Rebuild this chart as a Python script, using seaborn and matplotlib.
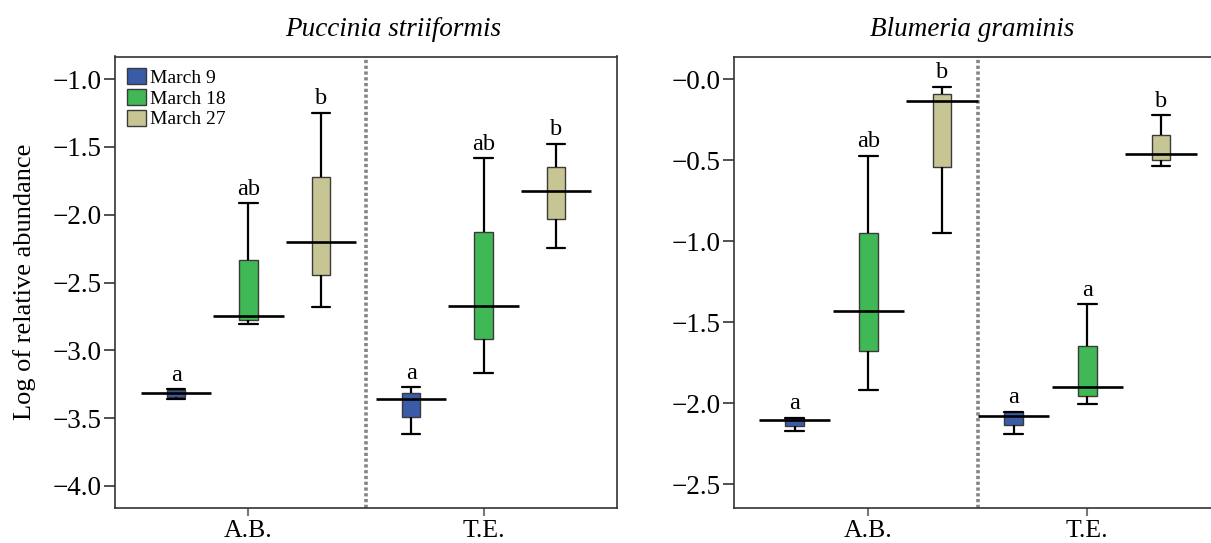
import numpy as np
import pandas as pd
import matplotlib
matplotlib.use("Agg")
import matplotlib.pyplot as plt
import seaborn as sns

# ---------------- data (min, Q1, median, Q3, max) ----------------
sites = ["A.B.", "T.E."]
dates = ["March 9", "March 18", "March 27"]

# Puccinia striiformis
ps_ab_m9  = [-3.360, -3.345, -3.314, -3.295, -3.287]
ps_ab_m18 = [-2.807, -2.775, -2.746, -2.333, -1.915]
ps_ab_m27 = [-2.677, -2.441, -2.200, -1.723, -1.246]
ps_te_m9  = [-3.616, -3.488, -3.360, -3.316, -3.274]
ps_te_m18 = [-3.169, -2.918, -2.670, -2.129, -1.583]
ps_te_m27 = [-2.242, -2.033, -1.826, -1.649, -1.475]
ps_letters = {"A.B.": ["a", "ab", "b"], "T.E.": ["a", "ab", "b"]}

# Blumeria graminis
bg_ab_m9  = [-2.169, -2.138, -2.105, -2.093, -2.088]
bg_ab_m18 = [-1.918, -1.675, -1.428, -0.951, -0.471]
bg_ab_m27 = [-0.949, -0.543, -0.134, -0.091, -0.047]
bg_te_m9  = [-2.191, -2.134, -2.076, -2.055, -2.051]
bg_te_m18 = [-2.006, -1.953, -1.901, -1.644, -1.389]
bg_te_m27 = [-0.535, -0.500, -0.463, -0.344, -0.222]
bg_letters = {"A.B.": ["a", "ab", "b"], "T.E.": ["a", "a", "b"]}

ps_yticks = [-1.0, -1.5, -2.0, -2.5, -3.0, -3.5, -4.0]
ps_yticklabels = ["\u22121.0", "\u22121.5", "\u22122.0", "\u22122.5", "\u22123.0", "\u22123.5", "\u22124.0"]
bg_yticks = [0.0, -0.5, -1.0, -1.5, -2.0, -2.5]
bg_yticklabels = ["\u22120.0", "\u22120.5", "\u22121.0", "\u22121.5", "\u22122.0", "\u22122.5"]

titles = ["Puccinia striiformis", "Blumeria graminis"]
ylabel = "Log of relative abundance"
colors = ["#3a5ba8", "#3fb855", "#c8c595"]


def make_df(groups):
    rows = []
    for (site, date), vals in groups.items():
        for v in vals:
            rows.append({"site": site, "date": date, "value": v})
    return pd.DataFrame(rows)


ps_df = make_df({("A.B.", "March 9"): ps_ab_m9, ("A.B.", "March 18"): ps_ab_m18,
                 ("A.B.", "March 27"): ps_ab_m27, ("T.E.", "March 9"): ps_te_m9,
                 ("T.E.", "March 18"): ps_te_m18, ("T.E.", "March 27"): ps_te_m27})
bg_df = make_df({("A.B.", "March 9"): bg_ab_m9, ("A.B.", "March 18"): bg_ab_m18,
                 ("A.B.", "March 27"): bg_ab_m27, ("T.E.", "March 9"): bg_te_m9,
                 ("T.E.", "March 18"): bg_te_m18, ("T.E.", "March 27"): bg_te_m27})

sns.set_style("ticks")
plt.rcParams["font.family"] = ["Liberation Serif", "DejaVu Serif"]
plt.rcParams["text.color"] = "black"
plt.rcParams["xtick.labelcolor"] = "black"
plt.rcParams["ytick.labelcolor"] = "black"

fig = plt.figure(figsize=(12.11, 5.43), dpi=100)
ax1 = fig.add_axes([115 / 1211, 35.5 / 543, 502 / 1211, 451 / 543])
ax2 = fig.add_axes([734 / 1211, 35.5 / 543, 487.6 / 1211, 451 / 543])

panels = [
    (ax1, ps_df, ps_letters, 0.924, (-0.568, 1.568), (-4.159, -0.833), ps_yticks, ps_yticklabels, True),
    (ax2, bg_df, bg_letters, 1.008, (-0.613, 1.613), (-2.643, 0.14), bg_yticks, bg_yticklabels, False),
]

for ax, df, letters, width, xlim, ylim, yt, ytl, show_legend in panels:
    slot = width / 3
    box_gap = 0.747
    sns.boxplot(data=df, x="site", y="value", hue="date", order=sites, hue_order=dates,
                palette=colors, saturation=1, width=width, gap=box_gap, whis=(0, 100),
                showfliers=False, linecolor="#3a3a3a", linewidth=1.0,
                whiskerprops={"color": "black", "linewidth": 1.6},
                capprops={"color": "black", "linewidth": 1.6},
                medianprops={"linewidth": 0},
                capwidths=slot * (1 - box_gap),
                legend=show_legend, ax=ax)
    # long median bars
    sns.boxplot(data=df, x="site", y="value", hue="date", order=sites, hue_order=dates,
                palette=colors, saturation=1, width=width, gap=0.03, whis=(0, 100),
                showfliers=False,
                boxprops={"facecolor": "none", "edgecolor": "none", "linewidth": 0},
                whiskerprops={"linewidth": 0}, capprops={"linewidth": 0},
                medianprops={"color": "black", "linewidth": 1.9},
                legend=False, ax=ax)

    # significance letters
    for si, site in enumerate(sites):
        for di, date in enumerate(dates):
            top = df[(df.site == site) & (df.date == date)]["value"].max()
            ax.annotate(letters[site][di], xy=(si + (di - 1) * slot, top),
                        xytext=(0, 2.5), textcoords="offset points",
                        ha="center", va="bottom", fontsize=17.5, color="black")

    ax.axvline(0.5, color="#858585", linestyle=(0, (0.9, 0.7)), linewidth=2.6, zorder=0)
    ax.set_xlim(*xlim)
    ax.set_ylim(*ylim)
    ax.set_yticks(yt)
    ax.set_yticklabels(ytl)
    ax.set_xlabel("")
    ax.set_ylabel("")
    ax.tick_params(axis="y", length=8, width=1.2, color="#333333", labelsize=19.5, pad=1.5,
                   labelcolor="black")
    ax.tick_params(axis="x", length=6, width=1.5, color="#777777", labelsize=18.5, pad=3,
                   labelcolor="black")
    for sp in ax.spines.values():
        sp.set_visible(True)
        sp.set_color("#333333")
        sp.set_linewidth(1.2)

sns.move_legend(ax1, "upper left", bbox_to_anchor=(0.0, 1.0), title=None, frameon=False,
                fontsize=14, handlelength=1.0, handleheight=0.9, handletextpad=0.2,
                labelspacing=0.1, borderaxespad=0.3, borderpad=0.3, labelcolor="black")

fig.text(393 / 1211, 1 - 29 / 543, titles[0], ha="center", va="center",
         fontsize=19.5, style="italic", color="black")
fig.text(971.7 / 1211, 1 - 29 / 543, titles[1], ha="center", va="center",
         fontsize=19.5, style="italic", color="black")
fig.text(25 / 1211, 1 - 281.7 / 543, ylabel, ha="center", va="center",
         rotation=90, fontsize=19, color="black")

fig.savefig("out.png", dpi=100)
